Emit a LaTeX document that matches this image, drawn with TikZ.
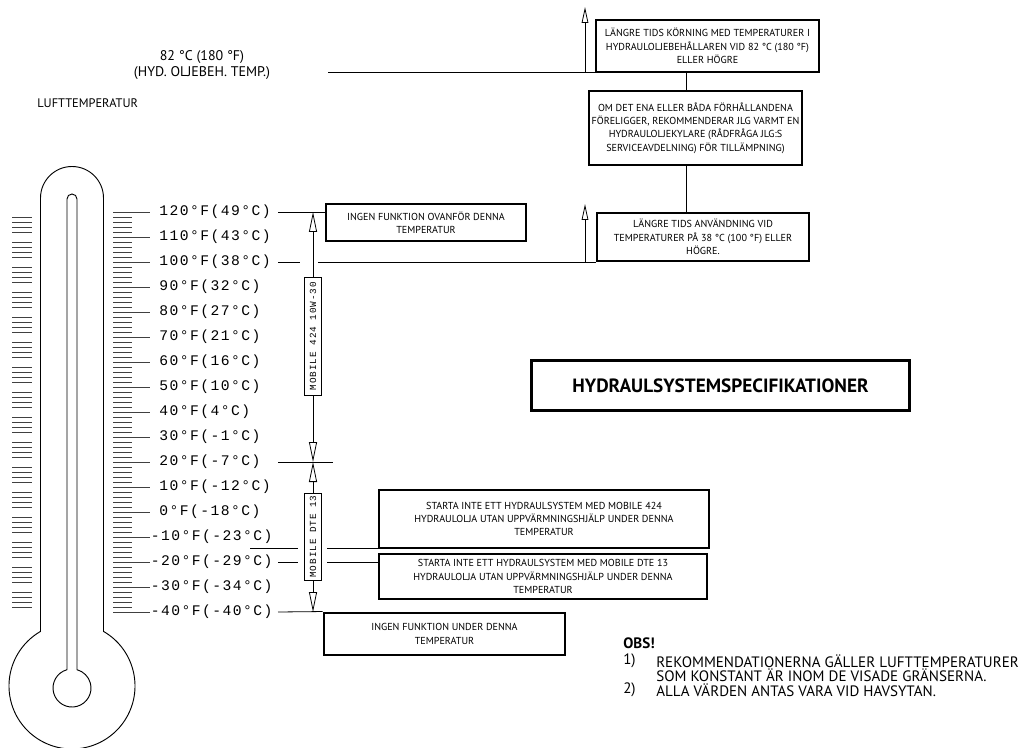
\documentclass[tikz,border=0pt]{standalone}
\usepackage{fontspec}
\setmainfont{PT Sans}
\newfontfamily\cadfont[LetterSpace=10]{Liberation Mono}
\usetikzlibrary{arrows.meta}
\begin{document}
\begin{tikzpicture}[x=0.75pt,y=-0.75pt,
  thinline/.style={line width=0.6pt},
  tick/.style={line width=0.55pt, black!75},
  thermo/.style={line width=0.7pt},
  warnbox/.style={draw, line width=2.2pt, align=center, inner sep=0pt,
    font=\fontsize{7.6}{10}\selectfont},
  templabel/.style={font=\cadfont\fontsize{11}{12}\selectfont, inner sep=0pt, anchor=west},
  oilbox/.style={draw, line width=0.7pt, rotate=90, inner sep=0pt,
    font=\cadfont\fontsize{7}{8}\selectfont, minimum height=17*0.75pt},
  bighead/.style={-{Triangle[open,length=15pt,width=6pt]}},
  smallhead/.style={-{Triangle[open,length=12pt,width=5pt]}},
  plain/.style={inner sep=0pt, font=\fontsize{9}{10}\selectfont},
  notetext/.style={inner sep=0pt, anchor=west, font=\fontsize{11.3}{12}\selectfont},
]
\useasboundingbox (0,0) rectangle (1024,748);

% ---------- thermometer ----------
\draw[thermo] (40.5,631.4) -- (40.5,198) arc (180:360:31.5) -- (103.5,631.4)
  arc (-60:240:63) -- cycle;
\draw[thermo] (67,199) -- (67,669.7) arc (254.7:-74.7:19) -- (77,199) arc (0:-180:5) -- cycle;

\foreach \t in {-40,-38,...,120}{
  \pgfmathsetmacro\yy{212+(120-\t)*2.5}
  \pgfmathtruncatemacro\m{mod(abs(\t),10)}
  \ifnum\m=0
    \draw[tick] (113,\yy) -- (150,\yy);
  \else
    \draw[tick] (113,\yy) -- (132,\yy);
    \draw[tick] (12,\yy) -- (32,\yy);
  \fi
}

% ---------- temperature labels ----------
\foreach \t/\txt in {120/{120°F(49°C)}, 110/{110°F(43°C)}, 100/{100°F(38°C)},
  90/{90°F(32°C)}, 80/{80°F(27°C)}, 70/{70°F(21°C)}, 60/{60°F(16°C)},
  50/{50°F(10°C)}, 40/{40°F(4°C)}, 30/{30°F(-1°C)}, 20/{20°F(-7°C)},
  10/{10°F(-12°C)}, 0/{0°F(-18°C)}, -10/{-10°F(-23°C)}, -20/{-20°F(-29°C)},
  -30/{-30°F(-34°C)}, -40/{-40°F(-40°C)}}{
  \pgfmathsetmacro\yy{212+(120-\t)*2.5}
  \ifnum\t<0
    \node[templabel] (lab\t) at (150.5,\yy) {\txt};
  \else
    \node[templabel] (lab\t) at (159,\yy) {\txt};
  \fi
}

% ---------- titles ----------
\node[plain, align=center, font=\fontsize{10.5}{12}\selectfont] (hydtemp) at (202,65) {82 °C (180 °F)\\(HYD. OLJEBEH. TEMP.)};
\node[plain, anchor=west, font=\fontsize{9.3}{10}\selectfont] (luft) at (37,103) {LUFTTEMPERATUR};

% ---------- boxes ----------
\node[warnbox, minimum width=223*0.75pt, minimum height=52*0.75pt] (b1) at (707.5,46)
  {LÄNGRE TIDS KÖRNING MED TEMPERATURER I\\HYDRAULOLJEBEHÅLLAREN VID 82 °C (180 °F)\\ELLER HÖGRE};
\node[warnbox, minimum width=213*0.75pt, minimum height=74*0.75pt] (b2) at (695.5,128)
  {OM DET ENA ELLER BÅDA FÖRHÅLLANDENA\\FÖRELIGGER, REKOMMENDERAR JLG VARMT EN\\HYDRAULOLJEKYLARE (RÅDFRÅGA JLG:S\\SERVICEAVDELNING) FÖR TILLÄMPNING)};
\node[warnbox, minimum width=212*0.75pt, minimum height=48*0.75pt] (b3) at (703,237)
  {LÄNGRE TIDS ANVÄNDNING VID\\TEMPERATURER PÅ 38 °C (100 °F) ELLER\\HÖGRE.};
\node[warnbox, minimum width=200*0.75pt, minimum height=37*0.75pt] (bhi) at (426,222.5)
  {INGEN FUNKTION OVANFÖR DENNA\\TEMPERATUR};
\node[warnbox, minimum width=330*0.75pt, minimum height=58*0.75pt] (bs1) at (544,519)
  {STARTA INTE ETT HYDRAULSYSTEM MED MOBILE 424\\HYDRAULOLJA UTAN UPPVÄRMNINGSHJÄLP UNDER DENNA\\TEMPERATUR};
\node[warnbox, minimum width=328*0.75pt, minimum height=45*0.75pt] (bs2) at (543,576.5)
  {STARTA INTE ETT HYDRAULSYSTEM MED MOBILE DTE 13\\HYDRAULOLJA UTAN UPPVÄRMNINGSHJÄLP UNDER DENNA\\TEMPERATUR};
\node[warnbox, minimum width=241*0.75pt, minimum height=42*0.75pt] (blo) at (444.5,634)
  {INGEN FUNKTION UNDER DENNA\\TEMPERATUR};
\node[warnbox, font=\bfseries\fontsize{14.4}{15}\selectfont, minimum height=50*0.75pt,
  minimum width=378*0.75pt, anchor=north east] (title) at (911,359) {HYDRAULSYSTEMSPECIFIKATIONER};

% ---------- oil boxes ----------
\node[oilbox, minimum width=118*0.75pt] (m424) at (313,336) {MOBILE 424 10W-30};
\node[oilbox, minimum width=87*0.75pt] (dte) at (313,536.5) {MOBILE DTE 13};

% ---------- vertical range arrows ----------
\coordinate (top120) at (313,212);
\coordinate (x20) at (313,462);
\coordinate (bot40) at (313,612);
\draw[thinline, bighead] (m424.east) -- (top120);
\draw[thinline, bighead] (m424.west) -- (x20);
\draw[thinline, bighead] (dte.east) -- (x20);
\draw[thinline, bighead] (dte.west) -- (bot40);

% ---------- horizontal lines ----------
\coordinate (h120) at (278,212);
\draw[thinline] (h120) -- (h120 -| bhi.west);
\coordinate (h100a) at (278,262); \coordinate (h100b) at (300,262);
\coordinate (h100c) at (318,262);
\draw[thinline] (h100a) -- (h100b);
\draw[thinline] (h100c) -- (h100c -| b3.west);
\coordinate (h20a) at (278,462); \coordinate (h20b) at (333,462);
\draw[thinline] (h20a) -- (h20b);
\coordinate (h548a) at (250,548); \coordinate (h548b) at (298,548);
\coordinate (h548c) at (327,548);
\draw[thinline] (h548a) -- (h548b);
\draw[thinline] (h548c) -- (h548c -| bs1.west);
\coordinate (h562a) at (278,562); \coordinate (h562b) at (298,562);
\coordinate (h562c) at (327,562);
\draw[thinline] (h562a) -- (h562b);
\draw[thinline] (h562c) -- (h562c -| bs2.west);
\coordinate (h40) at (278,612);
\draw[thinline] (h40) -- (blo.north west);

\coordinate (h82) at (328,72);
\draw[thinline] (h82) -- (h82 -| b1.west);
\coordinate (u82) at (585,72); \coordinate (u82t) at (585,7);
\draw[thinline, smallhead] (u82) -- (u82t);
\coordinate (u100) at (585,262); \coordinate (u100t) at (585,204);
\draw[thinline, smallhead] (u100) -- (u100t);

\coordinate (vx) at (686,0);
\draw[thinline] (b1.south -| vx) -- (b2.north -| vx);
\draw[thinline] (b2.south -| vx) -- (b3.north -| vx);

% ---------- notes ----------
\node[notetext, font=\bfseries\fontsize{11.3}{12}\selectfont] (obs) at (623,643) {OBS!};
\node[notetext] (n1) at (623,661) {1)};
\node[notetext] (n1a) at (656,661) {REKOMMENDATIONERNA GÄLLER LUFTTEMPERATURER};
\node[notetext] (n1b) at (656,675.5) {SOM KONSTANT ÄR INOM DE VISADE GRÄNSERNA.};
\node[notetext] (n2) at (623,690) {2)};
\node[notetext] (n2a) at (656,690) {ALLA VÄRDEN ANTAS VARA VID HAVSYTAN.};
\end{tikzpicture}
\end{document}
